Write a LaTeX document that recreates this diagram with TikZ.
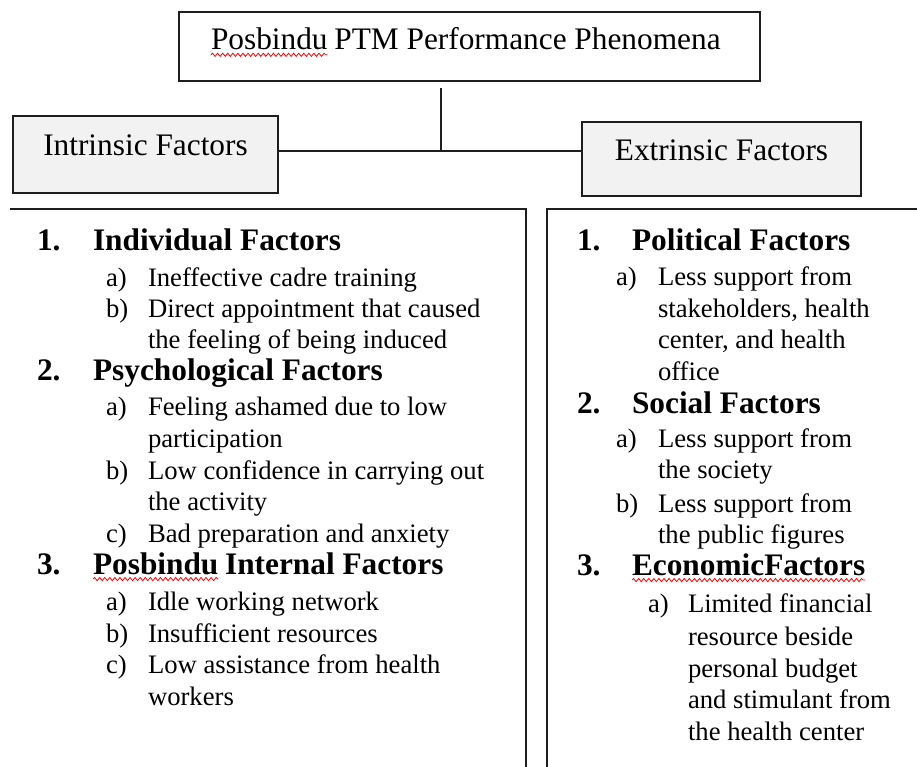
\documentclass[tikz,border=0pt]{standalone}
\usepackage{fontspec}
\setmainfont{Liberation Serif}
\usetikzlibrary{decorations.pathmorphing}
\definecolor{boxgray}{HTML}{F2F2F2}
\definecolor{linegray}{HTML}{1E1E1E}
\begin{document}
\begin{tikzpicture}[x=0.75pt,y=-0.75pt,
  every node/.style={inner sep=0pt, outer sep=0pt},
  frame/.style={draw=linegray, line width=1.5pt},
  bigfont/.style={font=\fontsize{23.5}{28}\selectfont},
  hbox/.style={frame, fill=boxgray, bigfont},
  conn/.style={draw=linegray, line width=1.5pt},
  ttl/.style={anchor=base west, bigfont},
  num/.style={anchor=base west, font=\fontsize{23.5}{28}\selectfont\bfseries},
  head/.style={anchor=base west, font=\fontsize{23.5}{28}\selectfont\bfseries},
  lab/.style={anchor=base west, font=\fontsize{20}{24}\selectfont},
  txt/.style={anchor=base west, font=\fontsize{20}{24}\selectfont},
  squig/.style={draw=red, line width=0.6pt, decorate,
    decoration={snake, segment length=3.8pt, amplitude=1.2pt}}
]
\useasboundingbox (0,0) rectangle (917,767);

% title box
\node[frame, fill=white, minimum width=435.75pt, minimum height=51.75pt] (tbox) at (469.5,46.5) {};
\node[ttl] (tpos) at (211,50) {Posbindu};
\node[ttl] (trest) at ([xshift=5pt]tpos.base east) {PTM Performance Phenomena};
\draw[squig] ([yshift=-3.6pt]tpos.base west) -- ([yshift=-3.6pt]tpos.base east);

% factor boxes
\node[hbox, minimum width=198.75pt, text height=29.25pt, text depth=28.5pt] (intr) at (145.5,154.5) {Intrinsic Factors};
\node[hbox, minimum width=209.25pt, text height=28.5pt, text depth=27pt] (extr) at (721.5,159) {Extrinsic Factors};

% connectors
\coordinate (j) at (441,151);
\draw[conn] ([yshift=-5.25pt]j |- tbox.south) -- (j);
\draw[conn] (intr.east |- j) -- (extr.west |- j);

% panels
\draw[frame] (10,209) -- (526,209) -- (526,775);
\draw[frame] (547,775) -- (547,209) -- (925,209);

% left panel
\node[num] (ln1) at (37,250) {1.};
\node[head] (lh1) at (93,250) {Individual Factors};
\node[lab] (l1a) at (106,286) {a)};
\node[txt] (l1at) at (148,286) {Ineffective cadre training};
\node[lab] (l1b) at (106,317) {b)};
\node[txt] (l1bt) at (148,317) {Direct appointment that caused};
\node[txt] (l1bt2) at (148,348) {the feeling of being induced};
\node[num] (ln2) at (37,380) {2.};
\node[head] (lh2) at (93,380) {Psychological Factors};
\node[lab] (l2a) at (106,415) {a)};
\node[txt] (l2at) at (148,415) {Feeling ashamed due to low};
\node[txt] (l2at2) at (148,447) {participation};
\node[lab] (l2b) at (106,479) {b)};
\node[txt] (l2bt) at (148,479) {Low confidence in carrying out};
\node[txt] (l2bt2) at (148,510) {the activity};
\node[lab] (l2c) at (106,542) {c)};
\node[txt] (l2ct) at (148,542) {Bad preparation and anxiety};
\node[num] (ln3) at (37,574) {3.};
\node[head] (lh3a) at (93,574) {Posbindu};
\node[head] (lh3b) at ([xshift=5pt]lh3a.base east) {Internal Factors};
\draw[squig] ([yshift=-3.8pt]lh3a.base west) -- ([yshift=-3.8pt]lh3a.base east);
\node[lab] (l3a) at (106,610) {a)};
\node[txt] (l3at) at (148,610) {Idle working network};
\node[lab] (l3b) at (106,642) {b)};
\node[txt] (l3bt) at (148,642) {Insufficient resources};
\node[lab] (l3c) at (106,673) {c)};
\node[txt] (l3ct) at (148,673) {Low assistance from health};
\node[txt] (l3ct2) at (148,705) {workers};

% right panel
\node[num] (rn1) at (577,250) {1.};
\node[head] (rh1) at (632,250) {Political Factors};
\node[lab] (r1a) at (616,285) {a)};
\node[txt] (r1at) at (658,285) {Less support from};
\node[txt] (r1at2) at (658,317) {stakeholders, health};
\node[txt] (r1at3) at (658,348) {center, and health};
\node[txt] (r1at4) at (658,380) {office};
\node[num] (rn2) at (577,413) {2.};
\node[head] (rh2) at (632,413) {Social Factors};
\node[lab] (r2a) at (616,447) {a)};
\node[txt] (r2at) at (658,447) {Less support from};
\node[txt] (r2at2) at (658,478) {the society};
\node[lab] (r2b) at (616,512) {b)};
\node[txt] (r2bt) at (658,512) {Less support from};
\node[txt] (r2bt2) at (658,543) {the public figures};
\node[num] (rn3) at (577,575) {3.};
\node[head] (rh3) at (632,575) {EconomicFactors};
\draw[squig] ([yshift=-3.8pt]rh3.base west) -- ([yshift=-3.8pt]rh3.base east);
\node[lab] (r3a) at (648,612) {a)};
\node[txt] (r3at) at (688,612) {Limited financial};
\node[txt] (r3at2) at (688,645) {resource beside};
\node[txt] (r3at3) at (688,677) {personal budget};
\node[txt] (r3at4) at (688,708) {and stimulant from};
\node[txt] (r3at5) at (688,740) {the health center};
\end{tikzpicture}
\end{document}
